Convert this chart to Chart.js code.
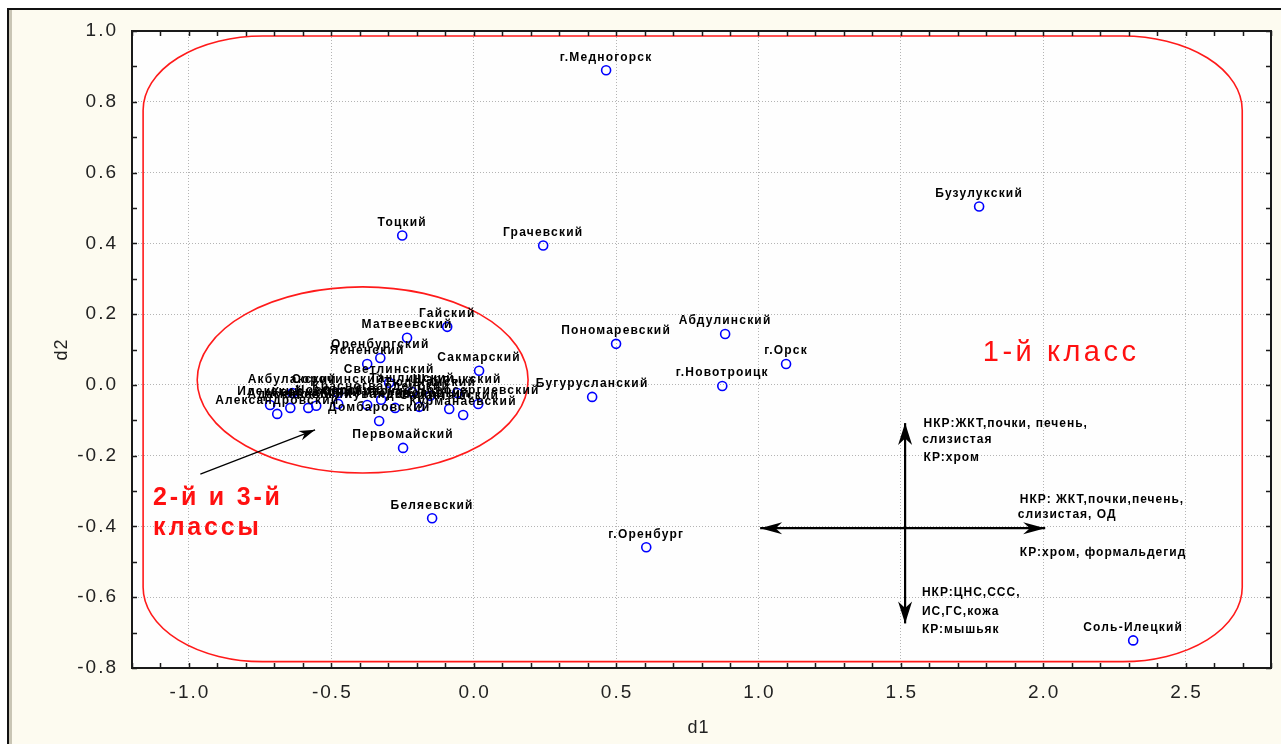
<!DOCTYPE html>
<html>
<head>
<meta charset="utf-8">
<script src="https://cdn.jsdelivr.net/npm/chart.js@4.4.1/dist/chart.umd.min.js"></script>
<style>
  html, body { margin: 0; padding: 0; background: #fff; }
  canvas { display: block; }
</style>
</head>
<body>
<canvas id="mapChart" width="1281" height="744"></canvas>
<script>
// districts and their scores on the two discriminant axes
const districts = [
  'г.Медногорск', 'Бузулукский', 'Тоцкий', 'Грачевский', 'Гайский',
  'Матвеевский', 'Абдулинский', 'Пономаревский', 'г.Орск', 'Оренбургский',
  'Ясненский', 'Сакмарский', 'Светлинский', 'Бугурусланский', 'г.Новотроицк',
  'Первомайский', 'Беляевский', 'г.Оренбург', 'Соль-Илецкий',
  'Илекский', 'Александровский', 'Адамовский', 'Асекеевский', 'Кваркенский',
  'Новоорский', 'Октябрьский', 'Красногвардейский', 'Кувандыкский', 'Домбаровский',
  'Переволоцкий', 'Саракташский', 'Курманаевский', 'Новосергиевский', 'Шарлыкский',
  'Ташлинский', 'Акбулакский', 'Тюльганский', 'Сорочинский'
];
const d1Values = [
  0.465, 1.775, -0.251, 0.244, -0.093,
  -0.234, 0.883, 0.500, 1.097, -0.328,
  -0.374, 0.019, -0.297, 0.416, 0.873,
  -0.248, -0.146, 0.606, 2.316,
  -0.715, -0.690, -0.644, -0.581, -0.553,
  -0.476, -0.374, -0.325, -0.276, -0.332,
  -0.191, -0.086, -0.037, 0.016, -0.058,
  -0.216, -0.637, -0.153, -0.476
];
const d2Values = [
  0.889, 0.504, 0.422, 0.394, 0.164,
  0.133, 0.144, 0.116, 0.059, 0.076,
  0.059, 0.040, 0.006, -0.034, -0.003,
  -0.178, -0.377, -0.459, -0.722,
  -0.057, -0.082, -0.065, -0.065, -0.059,
  -0.054, -0.057, -0.042, -0.065, -0.102,
  -0.062, -0.068, -0.085, -0.054, -0.023,
  -0.020, -0.023, -0.031, -0.023
];

const X_MIN = -1.2, X_MAX = 2.8;
const Y_MIN = -0.8, Y_MAX = 1.0;

const SMALL_FONT = 'bold 12px "Liberation Sans", Arial, sans-serif';
const TICK_FONT = '19px "Liberation Sans", Arial, sans-serif';

function isMajor(v, step) {
  const k = Math.round(v * 10);
  return Math.abs(k % Math.round(step * 10)) === 0;
}

function arrowHead(ctx, tx, ty, angle, len, half) {
  const notch = len * 0.3;
  ctx.save();
  ctx.translate(tx, ty);
  ctx.rotate(angle);
  ctx.beginPath();
  ctx.moveTo(0, 0);
  ctx.lineTo(-len, -half);
  ctx.lineTo(-len + notch, 0);
  ctx.lineTo(-len, half);
  ctx.closePath();
  ctx.fill();
  ctx.restore();
}

function drawArrow(ctx, x1, y1, x2, y2, both, len, half) {
  ctx.beginPath();
  ctx.moveTo(x1, y1);
  ctx.lineTo(x2, y2);
  ctx.stroke();
  const a = Math.atan2(y2 - y1, x2 - x1);
  arrowHead(ctx, x2, y2, a, len, half);
  if (both) arrowHead(ctx, x1, y1, a + Math.PI, len, half);
}

const framePlugin = {
  id: 'frame',
  beforeDraw(chart) {
    const ctx = chart.ctx;
    const { left, top, right, bottom } = chart.chartArea;
    ctx.save();
    ctx.fillStyle = '#ffffff';
    ctx.fillRect(0, 0, chart.width, chart.height);
    ctx.fillStyle = '#fdfbf0';
    ctx.fillRect(9, 10, chart.width - 9, chart.height - 10);
    ctx.fillStyle = '#111';
    ctx.fillRect(7, 8, chart.width - 7, 2);
    ctx.fillRect(7, 8, 2, chart.height - 8);
    ctx.fillStyle = '#c9c5b5';
    ctx.fillRect(9, 10, 3, chart.height - 10);
    ctx.fillStyle = '#fefefe';
    ctx.fillRect(left, top, right - left, bottom - top);
    ctx.restore();
  },
  beforeDatasetsDraw(chart) {
    const ctx = chart.ctx;
    const xs = chart.scales.x, ys = chart.scales.y;
    const px = v => xs.getPixelForValue(v);
    const py = v => ys.getPixelForValue(v);
    ctx.save();

    // class 1 boundary: rounded rectangle
    const L = px(-1.161), R = px(2.699), T = py(0.986), B = py(-0.782);
    const rx = px(-1.161 + 0.42) - L, ry = py(0.986 - 0.21) - T;
    ctx.strokeStyle = '#ff1a1a';
    ctx.lineWidth = 1.6;
    ctx.beginPath();
    ctx.moveTo(L + rx, T);
    ctx.lineTo(R - rx, T);
    ctx.ellipse(R - rx, T + ry, rx, ry, 0, -Math.PI / 2, 0);
    ctx.lineTo(R, B - ry);
    ctx.ellipse(R - rx, B - ry, rx, ry, 0, 0, Math.PI / 2);
    ctx.lineTo(L + rx, B);
    ctx.ellipse(L + rx, B - ry, rx, ry, 0, Math.PI / 2, Math.PI);
    ctx.lineTo(L, T + ry);
    ctx.ellipse(L + rx, T + ry, rx, ry, 0, Math.PI, Math.PI * 1.5);
    ctx.closePath();
    ctx.stroke();

    // classes 2 and 3: ellipse
    const cx = px(-0.39), cy = py(0.014);
    const erx = px(-0.39 + 0.581) - cx, ery = cy - py(0.014 + 0.263);
    ctx.beginPath();
    ctx.ellipse(cx, cy, erx, ery, 0, 0, Math.PI * 2);
    ctx.stroke();

    // arrows
    ctx.strokeStyle = '#000';
    ctx.fillStyle = '#000';
    ctx.lineWidth = 1.2;
    drawArrow(ctx, px(-0.96), py(-0.252), px(-0.557), py(-0.127), false, 16, 5);
    ctx.lineWidth = 2.2;
    drawArrow(ctx, px(1.515), py(-0.674), px(1.515), py(-0.108), true, 22, 7);
    drawArrow(ctx, px(1.006), py(-0.405), px(2.007), py(-0.405), true, 22, 6);

    // notes
    ctx.font = SMALL_FONT;
    ctx.letterSpacing = '1px';
    ctx.textAlign = 'left';
    ctx.textBaseline = 'middle';
    const notes = [
      ['НКР:ЖКТ,почки, печень,', 1.580, -0.110],
      ['слизистая', 1.575, -0.155],
      ['КР:хром', 1.580, -0.207],
      ['НКР: ЖКТ,почки,печень,', 1.918, -0.323],
      ['слизистая, ОД', 1.911, -0.368],
      ['КР:хром, формальдегид', 1.918, -0.473],
      ['НКР:ЦНС,ССС,', 1.574, -0.586],
      ['ИС,ГС,кожа', 1.574, -0.640],
      ['КР:мышьяк', 1.574, -0.691]
    ];
    notes.forEach(([t, x, y]) => ctx.fillText(t, px(x), py(y)));

    // class captions
    ctx.fillStyle = '#ff1010';
    ctx.font = '29px "Liberation Sans", Arial, sans-serif';
    ctx.letterSpacing = '3.5px';
    ctx.fillText('1-й класс', px(1.788), py(0.091));
    ctx.font = 'bold 25px "Liberation Sans", Arial, sans-serif';
    ctx.letterSpacing = '2.8px';
    ctx.fillText('2-й и 3-й', px(-1.126), py(-0.320));
    ctx.fillText('классы', px(-1.126), py(-0.405));
    ctx.restore();
  },
  afterDatasetsDraw(chart) {
    const ctx = chart.ctx;
    const meta = chart.getDatasetMeta(0);
    ctx.save();
    ctx.font = SMALL_FONT;
    ctx.letterSpacing = '1.2px';
    ctx.fillStyle = '#000';
    ctx.textAlign = 'center';
    ctx.textBaseline = 'middle';
    meta.data.forEach((pt, i) => {
      ctx.fillText(districts[i], pt.x, pt.y - 13);
    });
    ctx.restore();
  },
  afterDraw(chart) {
    const ctx = chart.ctx;
    const { left, top, right, bottom } = chart.chartArea;
    const xs = chart.scales.x, ys = chart.scales.y;
    ctx.save();
    ctx.strokeStyle = '#1a1a1a';
    ctx.lineWidth = 1.5;
    ctx.beginPath();
    xs.ticks.forEach(t => {
      const p = Math.round(xs.getPixelForValue(t.value)) + 0.5;
      ctx.moveTo(p, bottom); ctx.lineTo(p, bottom - 5);
      ctx.moveTo(p, top); ctx.lineTo(p, top + 5);
    });
    ys.ticks.forEach(t => {
      const p = Math.round(ys.getPixelForValue(t.value)) + 0.5;
      ctx.moveTo(left, p); ctx.lineTo(left + 5, p);
      ctx.moveTo(right, p); ctx.lineTo(right - 5, p);
    });
    ctx.stroke();
    ctx.lineWidth = 2;
    ctx.strokeRect(left, top, right - left, bottom - top);

    // tick labels
    ctx.fillStyle = '#222';
    ctx.font = TICK_FONT;
    ctx.letterSpacing = '2px';
    ctx.textBaseline = 'middle';
    ctx.textAlign = 'center';
    xs.ticks.forEach(t => {
      if (isMajor(t.value, 0.5)) {
        ctx.fillText((Math.abs(t.value) < 1e-9 ? 0 : t.value).toFixed(1), xs.getPixelForValue(t.value) + 1, bottom + 25);
      }
    });
    ctx.textAlign = 'right';
    ys.ticks.forEach(t => {
      if (isMajor(t.value, 0.2)) {
        ctx.fillText((Math.abs(t.value) < 1e-9 ? 0 : t.value).toFixed(1), left - 14, ys.getPixelForValue(t.value));
      }
    });

    // axis titles
    ctx.textAlign = 'center';
    ctx.letterSpacing = '1px';
    ctx.font = '18px "Liberation Sans", Arial, sans-serif';
    ctx.fillText('d1', (left + right) / 2 - 3, 728);
    ctx.save();
    ctx.translate(62, (top + bottom) / 2);
    ctx.rotate(-Math.PI / 2);
    ctx.fillText('d2', 0, 0);
    ctx.restore();
    ctx.restore();
  }
};

const ctx = document.getElementById('mapChart').getContext('2d');
const mapChart = new Chart(ctx, {
  type: 'scatter',
  data: {
    datasets: [{
      label: 'Районы',
      data: districts.map((name, i) => ({ x: d1Values[i], y: d2Values[i] })),
      pointStyle: 'circle',
      pointRadius: 4.5,
      pointBorderWidth: 1.6,
      borderColor: '#0000ff',
      backgroundColor: 'rgba(255,255,255,0)'
    }]
  },
  options: {
    responsive: false,
    animation: false,
    devicePixelRatio: 1,
    layout: {
      padding: { left: 12, top: 31, right: 10, bottom: 0 }
    },
    plugins: {
      legend: { display: false },
      tooltip: { enabled: false }
    },
    scales: {
      x: {
        type: 'linear',
        min: X_MIN,
        max: X_MAX,
        afterFit: s => { s.height = 76; },
        border: { display: false, dash: [1, 2] },
        ticks: { stepSize: 0.1, autoSkip: false, display: false },
        grid: {
          drawTicks: false,
          color: c => (c.tick && isMajor(c.tick.value, 0.5)) ? '#b4b4b4' : 'rgba(0,0,0,0)',
          lineWidth: 1
        }
      },
      y: {
        type: 'linear',
        min: Y_MIN,
        max: Y_MAX,
        afterFit: s => { s.width = 120; },
        border: { display: false, dash: [1, 2] },
        ticks: { stepSize: 0.1, autoSkip: false, display: false },
        grid: {
          drawTicks: false,
          color: c => (c.tick && isMajor(c.tick.value, 0.2)) ? '#b4b4b4' : 'rgba(0,0,0,0)',
          lineWidth: 1
        }
      }
    }
  },
  plugins: [framePlugin]
});
</script>
</body>
</html>
